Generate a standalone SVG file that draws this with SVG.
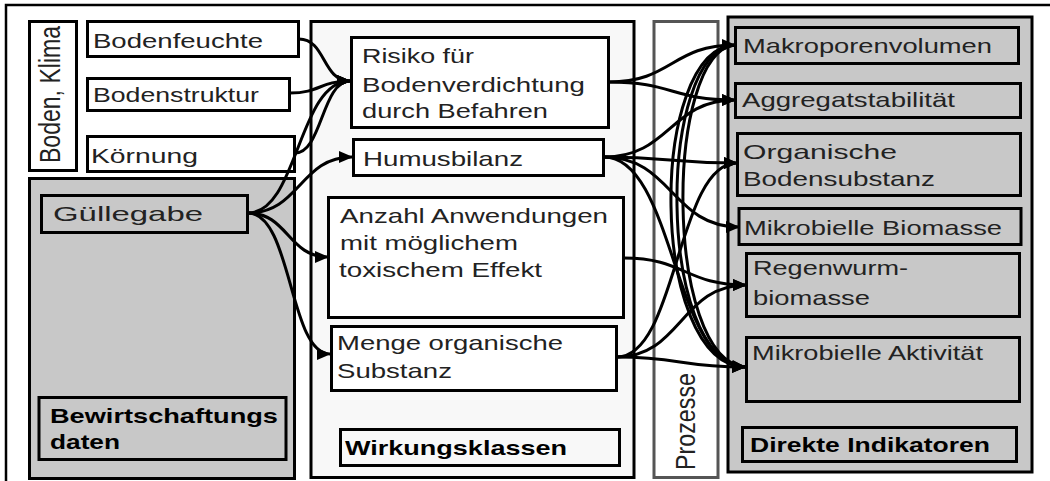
<svg xmlns="http://www.w3.org/2000/svg" width="1050" height="481" viewBox="0 0 1050 481">
  <defs>
    <marker id="arrow" markerUnits="userSpaceOnUse" markerWidth="14" markerHeight="12" refX="13" refY="6" orient="auto">
      <path d="M0,0 L14,6 L0,12 z" fill="#000"/>
    </marker>
    <style>
      .box { fill: #fff; stroke: #000; stroke-width: 3; }
      .gray { fill: #c8c8c8; stroke: #000; stroke-width: 3; }
      .light { fill: #f8f8f8; stroke: #000; stroke-width: 3; }
      .proc { fill: #fff; stroke: #555; stroke-width: 3; }
      .frame { stroke: #000; stroke-width: 2.5; fill: none; }
      .t { font-family: "Liberation Sans", Arial, sans-serif; font-size: 21px; fill: #222; }
      .b { font-family: "Liberation Sans", Arial, sans-serif; font-size: 21px; font-weight: bold; fill: #000; }
      .conn path { fill: none; stroke: #000; stroke-width: 3; marker-end: url(#arrow); }
    </style>
  </defs>

  <!-- outer frame -->
  <path class="frame" d="M6,481 V5 H1050"/>

  <!-- panels -->
  <g id="boden-klima">
    <rect class="box" x="29.5" y="21.5" width="47" height="149"/>
    <text class="t" transform="translate(60,163) rotate(-90) scale(1,1.4)" textLength="137" lengthAdjust="spacingAndGlyphs">Boden, Klima</text>
  </g>
  <g id="bewirtschaftung">
    <rect class="gray" x="29.5" y="178.5" width="265" height="300"/>
    <rect class="gray" x="39" y="397.5" width="247" height="62"/>
    <text class="b" x="50" y="423" textLength="228" lengthAdjust="spacingAndGlyphs">Bewirtschaftungs</text>
    <text class="b" x="50" y="449" textLength="70" lengthAdjust="spacingAndGlyphs">daten</text>
  </g>
  <g id="wirkungsklassen">
    <rect class="light" x="311" y="21.5" width="323" height="456"/>
    <rect class="light" x="340.5" y="429.5" width="279" height="36"/>
    <text class="b" x="345" y="455" textLength="222" lengthAdjust="spacingAndGlyphs">Wirkungsklassen</text>
  </g>
  <g id="prozesse">
    <rect class="proc" x="654" y="21.5" width="64" height="456"/>
    <text class="t" transform="translate(695,470) rotate(-90) scale(1,1.35)" textLength="97" lengthAdjust="spacingAndGlyphs">Prozesse</text>
  </g>
  <g id="direkte-indikatoren">
    <rect class="gray" x="728" y="17" width="304" height="455"/>
    <rect class="gray" x="742.5" y="427.5" width="274" height="34"/>
    <text class="b" x="750" y="452" textLength="240" lengthAdjust="spacingAndGlyphs">Direkte Indikatoren</text>
  </g>

  <!-- input nodes -->
  <g id="bodenfeuchte">
    <rect class="box" x="87.5" y="21.5" width="211" height="35"/>
    <text class="t" x="93" y="48" textLength="170" lengthAdjust="spacingAndGlyphs">Bodenfeuchte</text>
  </g>
  <g id="bodenstruktur">
    <rect class="box" x="87.5" y="78.5" width="202" height="32"/>
    <text class="t" x="93" y="102" textLength="166" lengthAdjust="spacingAndGlyphs">Bodenstruktur</text>
  </g>
  <g id="koernung">
    <rect class="box" x="87.5" y="136.5" width="207" height="35"/>
    <text class="t" x="91" y="163" textLength="107" lengthAdjust="spacingAndGlyphs">Körnung</text>
  </g>
  <g id="guellegabe">
    <rect class="gray" x="41.5" y="195.5" width="206" height="37"/>
    <text class="t" x="53" y="221" textLength="150" lengthAdjust="spacingAndGlyphs" fill="#333">Güllegabe</text>
  </g>

  <!-- impact classes -->
  <g id="risiko">
    <rect class="box" x="351.5" y="37.5" width="257" height="90"/>
    <text class="t" x="362" y="63" textLength="112" lengthAdjust="spacingAndGlyphs">Risiko für</text>
    <text class="t" x="362" y="92" textLength="223" lengthAdjust="spacingAndGlyphs">Bodenverdichtung</text>
    <text class="t" x="362" y="118" textLength="186" lengthAdjust="spacingAndGlyphs">durch Befahren</text>
  </g>
  <g id="humusbilanz">
    <rect class="box" x="353.5" y="139.5" width="250" height="36"/>
    <text class="t" x="363" y="166" textLength="160" lengthAdjust="spacingAndGlyphs">Humusbilanz</text>
  </g>
  <g id="anzahl">
    <rect class="box" x="328.5" y="197.5" width="295" height="120"/>
    <text class="t" x="340" y="223" textLength="268" lengthAdjust="spacingAndGlyphs">Anzahl Anwendungen</text>
    <text class="t" x="340" y="250" textLength="178" lengthAdjust="spacingAndGlyphs">mit möglichem</text>
    <text class="t" x="339" y="277" textLength="203" lengthAdjust="spacingAndGlyphs">toxischem Effekt</text>
  </g>
  <g id="menge">
    <rect class="box" x="331.5" y="326.5" width="285" height="64"/>
    <text class="t" x="337" y="350" textLength="226" lengthAdjust="spacingAndGlyphs">Menge organische</text>
    <text class="t" x="337" y="378" textLength="115" lengthAdjust="spacingAndGlyphs">Substanz</text>
  </g>

  <!-- direct indicators -->
  <g id="makroporen">
    <rect class="gray" x="735.5" y="27.5" width="283" height="36"/>
    <text class="t" x="743" y="53" textLength="249" lengthAdjust="spacingAndGlyphs">Makroporenvolumen</text>
  </g>
  <g id="aggregat">
    <rect class="gray" x="735.5" y="83.5" width="285" height="34"/>
    <text class="t" x="742" y="107" textLength="213" lengthAdjust="spacingAndGlyphs">Aggregatstabilität</text>
  </g>
  <g id="organische">
    <rect class="gray" x="737.5" y="133.5" width="283" height="62"/>
    <text class="t" x="743" y="159" textLength="154" lengthAdjust="spacingAndGlyphs">Organische</text>
    <text class="t" x="743" y="186" textLength="192" lengthAdjust="spacingAndGlyphs">Bodensubstanz</text>
  </g>
  <g id="mikro-biomasse">
    <rect class="gray" x="739" y="208.5" width="282" height="36"/>
    <text class="t" x="744" y="235" textLength="258" lengthAdjust="spacingAndGlyphs">Mikrobielle Biomasse</text>
  </g>
  <g id="regenwurm">
    <rect class="gray" x="746.5" y="253.5" width="273" height="63"/>
    <text class="t" x="753" y="275" textLength="155" lengthAdjust="spacingAndGlyphs">Regenwurm-</text>
    <text class="t" x="753" y="305" textLength="117" lengthAdjust="spacingAndGlyphs">biomasse</text>
  </g>
  <g id="mikro-aktivitaet">
    <rect class="gray" x="746.5" y="337.5" width="273" height="64"/>
    <text class="t" x="752" y="360" textLength="231" lengthAdjust="spacingAndGlyphs">Mikrobielle Aktivität</text>
  </g>

  <!-- connectors -->
  <g class="conn" id="connectors">
    <!-- inputs to impact classes -->
    <path d="M299,39 C326,39 322,81 350,81"/>
    <path d="M290,93 C320,93 320,81 350,81"/>
    <path d="M295,153 C322,153 322,81 350,81"/>
    <path d="M248,213 C298,213 298,81 350,81"/>
    <path d="M248,213 C300,213 300,157 352,157"/>
    <path d="M248,213 C288,213 288,257 328,257"/>
    <path d="M248,213 C292,213 289,354 330,354"/>
    <!-- impact classes to indicators -->
    <path d="M609,82 C672,82 672,45 735,45"/>
    <path d="M609,82 C672,82 672,100 735,100"/>
    <path d="M604,157 C670,157 670,100 735,100"/>
    <path d="M604,157 C670,157 670,163 737,163"/>
    <path d="M604,157 C672,157 672,227 739,227"/>
    <path d="M604,157 C674,157 674,367 745,367"/>
    <path d="M624,258 C685,258 685,285 746,285"/>
    <path d="M617,357 C681,357 681,285 746,285"/>
    <path d="M617,357 C680,357 680,367 745,367"/>
    <path d="M617,357 C677,357 677,163 737,163"/>
    <!-- links between indicators, bowing through the process column -->
    <path d="M735,45 C648,48 648,364 745,367"/>
    <path d="M735,45 C656,50 656,362 745,367"/>
    <path d="M735,45 C664,52 664,360 745,367"/>
  </g>
</svg>
